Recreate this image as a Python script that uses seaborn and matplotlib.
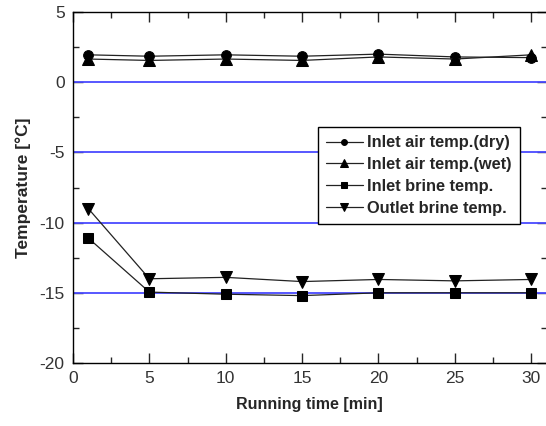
import matplotlib
matplotlib.use("Agg")
import matplotlib.pyplot as plt
from matplotlib.ticker import MultipleLocator
import seaborn as sns
import pandas as pd

time_min = [1, 5, 10, 15, 20, 25, 30]
air_dry = [1.95, 1.85, 1.95, 1.85, 2.0, 1.8, 1.75]
air_wet = [1.65, 1.55, 1.65, 1.55, 1.8, 1.65, 1.95]
brine_in = [-11.1, -14.95, -15.1, -15.2, -15.0, -15.0, -15.0]
brine_out = [-9.0, -14.0, -13.9, -14.2, -14.05, -14.15, -14.05]
labels = ["Inlet air temp.(dry)", "Inlet air temp.(wet)", "Inlet brine temp.", "Outlet brine temp."]
ref_levels = [0, -5, -10, -15]

sns.set_style("ticks")
plt.rcParams["font.family"] = ["Liberation Sans", "DejaVu Sans"]
plt.rcParams["axes.unicode_minus"] = False

fig = plt.figure(figsize=(5.46, 4.26), dpi=100)
ax = fig.add_axes([73 / 546, 63 / 426, 473.5 / 546, 351 / 426])

for lv in ref_levels:
    ax.axhline(lv, color="#4a4aff", lw=1.3, zorder=1)

series = [air_dry, air_wet, brine_in, brine_out]
markers = ["o", "^", "s", "v"]
msizes = [7, 8.5, 6.5, 8.5]
for vals, lab, mk, ms in zip(series, labels, markers, msizes):
    df = pd.DataFrame({"t": time_min, "v": vals})
    sns.lineplot(data=df, x="t", y="v", ax=ax, color="#222222", lw=0.9,
                 marker=mk, markersize=ms, markerfacecolor="black",
                 markeredgecolor="black", label=lab, zorder=3)

ax.set_xlim(0, 31)
ax.set_ylim(-20, 5)
ax.xaxis.set_major_locator(MultipleLocator(5))
ax.xaxis.set_minor_locator(MultipleLocator(2.5))
ax.yaxis.set_major_locator(MultipleLocator(5))
ax.yaxis.set_minor_locator(MultipleLocator(2.5))
ax.tick_params(which="both", direction="in", top=True, right=True,
               labelsize=12.5, labelcolor="#333333", pad=6)
ax.tick_params(which="major", length=7, width=1)
ax.tick_params(which="minor", length=4, width=1)
for sp in ax.spines.values():
    sp.set_visible(True)
    sp.set_color("black")
    sp.set_linewidth(1)

ax.set_xlabel("Running time [min]", fontsize=11.5, fontweight="bold", labelpad=8)
ax.set_ylabel("Temperature [°C]", fontsize=12.5, fontweight="bold", labelpad=6)

leg = ax.legend(loc="upper left", bbox_to_anchor=(0.518, 0.672), frameon=True,
                fancybox=False, prop={"size": 11.8, "weight": "bold"},
                handlelength=2.2, borderpad=0.5, markerscale=0.6,
                labelspacing=0.42, handletextpad=0.3, borderaxespad=0)
leg.get_frame().set_edgecolor("black")
leg.get_frame().set_linewidth(1)
leg.get_frame().set_alpha(1)

fig.savefig("out.png", dpi=100)
